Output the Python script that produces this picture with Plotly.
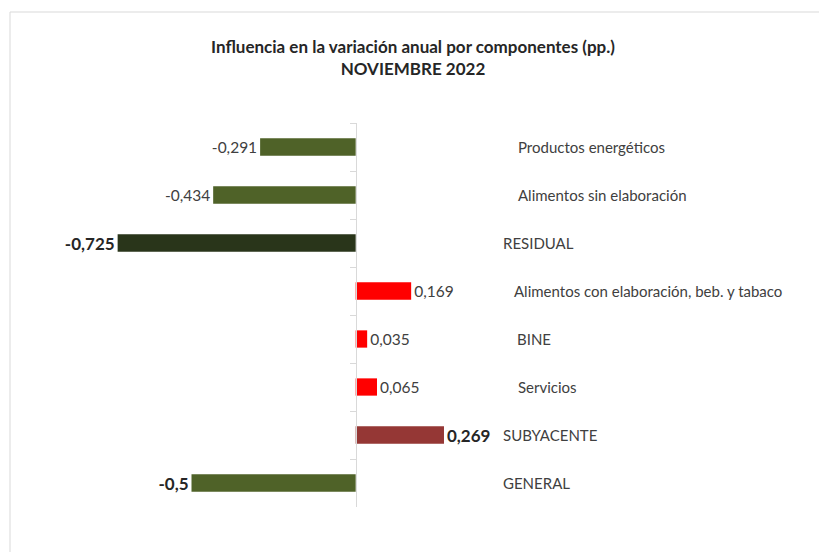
import plotly.graph_objects as go

categories = ["Productos energéticos", "Alimentos sin elaboración", "RESIDUAL",
              "Alimentos con elaboración, beb. y tabaco", "BINE", "Servicios",
              "SUBYACENTE", "GENERAL"]
values = [-0.291, -0.434, -0.725, 0.169, 0.035, 0.065, 0.269, -0.5]
bold_flags = [False, False, True, False, False, False, True, True]
colors = ["#4F6228", "#4F6228", "#29351A", "#FF0000", "#FF0000", "#FF0000", "#953735", "#4F6228"]
label_pos = [0.487, 0.487, 0.442, 0.475, 0.484, 0.487, 0.442, 0.442]

OFF = 8  # page body margin
W, H = 827 - OFF, 552 - OFF
L, T = 93 - OFF, 123 - OFF
pw, ph = 591, 384
R, B = W - L - pw, H - T - ph
xmin, xmax = -0.8, 1.0

def px_x(p):
    return (p - OFF - L) / pw

def px_y(p):
    return (T + ph - (p - OFF)) / ph

texts = []
for v, b in zip(values, bold_flags):
    s = str(v).replace(".", ",")
    texts.append(f"<b>{s}</b>" if b else s)
sizes = [17 if b else 15.5 for b in bold_flags]
tcolors = ["#262626" if b else "#404040" for b in bold_flags]

fig = go.Figure(go.Bar(
    y=categories, x=values, orientation="h",
    marker=dict(color=colors, line=dict(width=0)),
    width=0.36,
    text=texts, textposition="outside", constraintext="none",
    textfont=dict(size=sizes, color=tcolors, family="Lato"),
    cliponaxis=False,
))

for c, lx in zip(categories, label_pos):
    fig.add_annotation(x=lx, y=c, xref="x", yref="y", text=c, showarrow=False,
                       xanchor="left", yanchor="middle",
                       font=dict(family="Lato", size=15, color="#404040"))

fig.add_shape(type="rect", xref="paper", yref="paper",
              x0=px_x(10), x1=px_x(840), y0=px_y(12), y1=px_y(565),
              line=dict(color="#D9D9D9", width=1), fillcolor="rgba(0,0,0,0)", layer="below")

fig.update_layout(
    width=W, height=H,
    margin=dict(l=L, r=R, t=T, b=B),
    paper_bgcolor="white", plot_bgcolor="white",
    showlegend=False,
    font=dict(family="Lato", color="#404040"),
    title=dict(text="<b>Influencia en la variación anual por componentes (pp.)<br>NOVIEMBRE 2022</b>",
               x=0.5 + (413 - OFF - W / 2) / W, xref="container", xanchor="center",
               y=1 - (53 - OFF) / H, yref="container", yanchor="middle",
               font=dict(family="Lato", size=17, color="#262626")),
    xaxis=dict(range=[xmin, xmax], visible=False, fixedrange=True),
    yaxis=dict(autorange="reversed", showticklabels=False, showgrid=False,
               showline=True, linecolor="#D9D9D9", linewidth=1,
               ticks="outside", tickson="boundaries", ticklen=6, tickcolor="#D9D9D9",
               anchor="free", position=(0 - xmin) / (xmax - xmin), zeroline=False),
)

fig.write_html("out.html")
